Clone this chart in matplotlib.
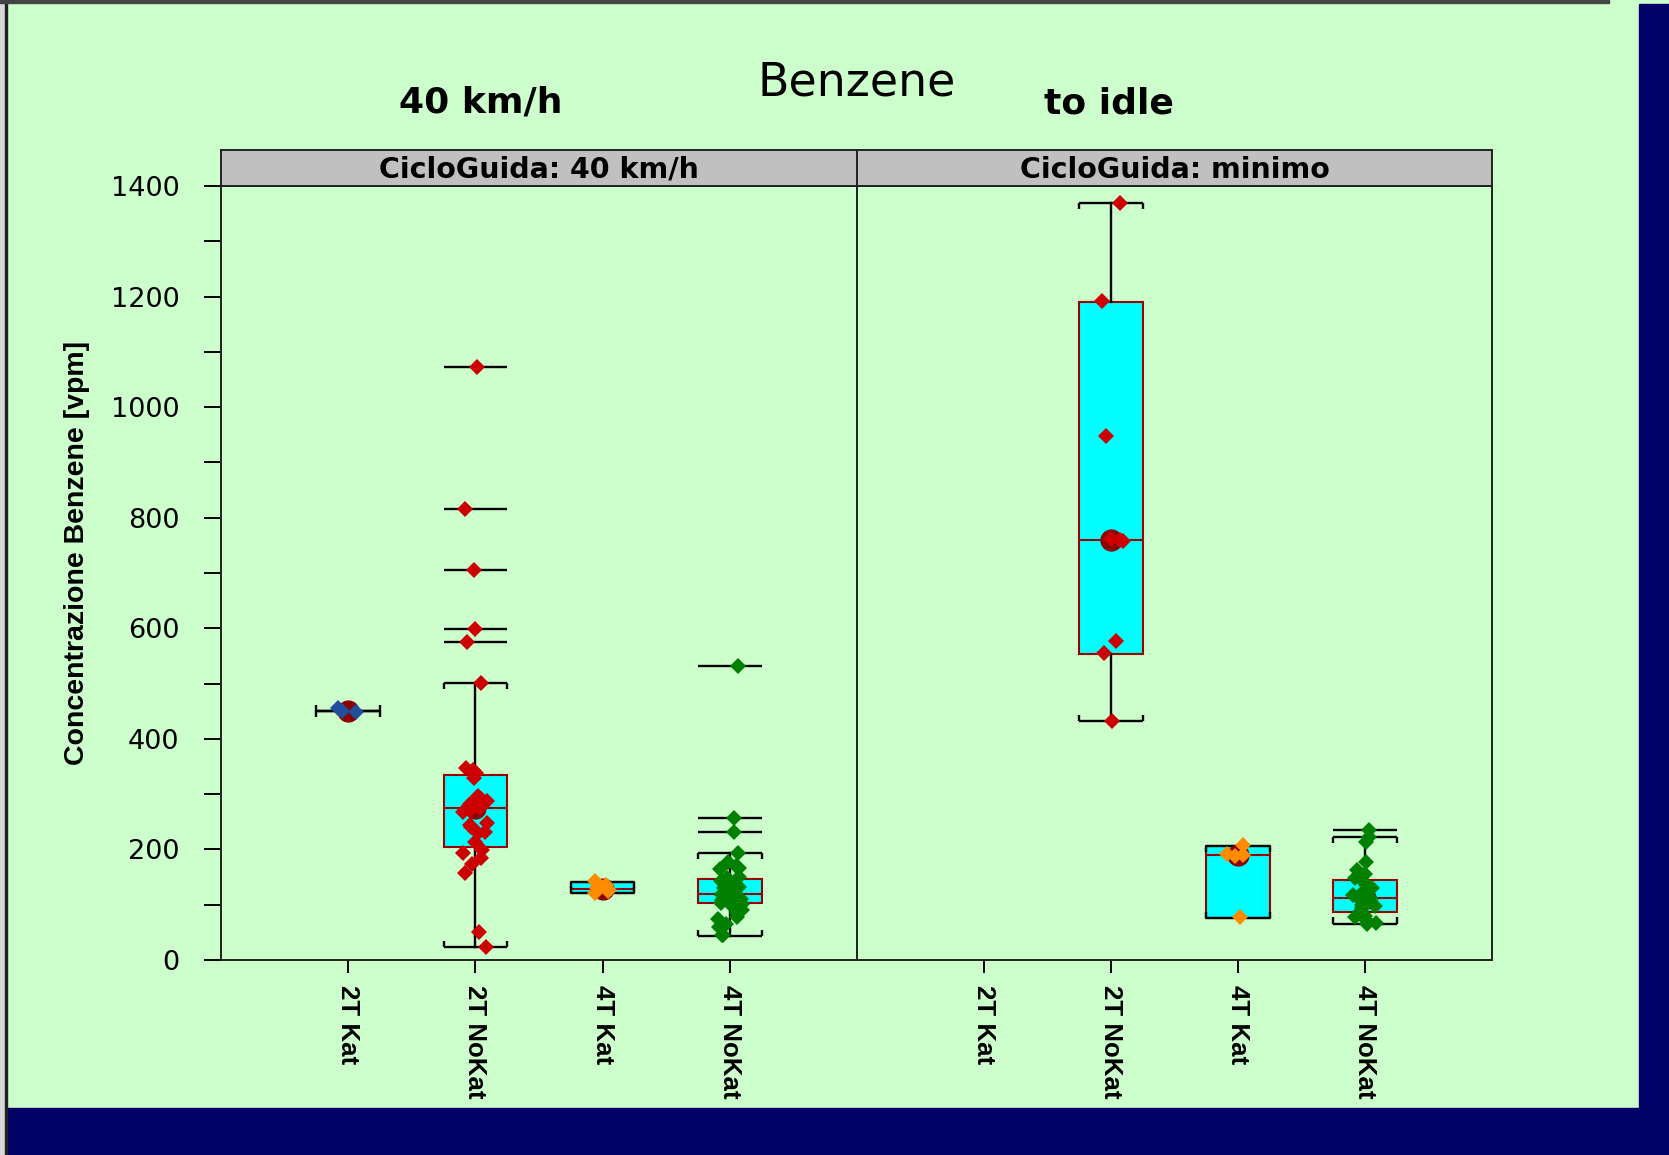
import matplotlib
matplotlib.use("Agg")
import matplotlib.pyplot as plt
from matplotlib.patches import Rectangle
import numpy as np

# Categorie e pannelli
categorie = ["2T Kat", "2T NoKat", "4T Kat", "4T NoKat"]
pannelli = ["CicloGuida: 40 km/h", "CicloGuida: minimo"]

# Punti osservati - ciclo 40 km/h
kat2_40 = [455, 450, 448]
nokat2_40 = [1072, 816, 705, 598, 575, 501, 347, 344, 338, 330, 296, 292, 288,
             282, 278, 275, 272, 268, 248, 245, 240, 232, 230, 214, 199, 194,
             184, 173, 158, 51, 23]
kat4_40 = [143, 135, 130, 127, 124, 122]
nokat4_40 = [532, 256, 231, 194, 177, 170, 166, 164, 151, 148, 145, 142, 139,
             135, 132, 130, 127, 125, 122, 120, 118, 116, 115, 112, 110, 108,
             105, 103, 101, 98, 95, 91, 85, 78, 75, 65, 60, 46, 45]

# Punti osservati - ciclo minimo
kat2_min = []
nokat2_min = [1370, 1192, 948, 762, 760, 758, 577, 555, 432]
kat4_min = [208, 192, 190, 188, 77]
nokat4_min = [235, 223, 214, 178, 163, 155, 148, 140, 136, 130, 121, 118, 115,
              114, 110, 106, 100, 97, 94, 88, 85, 79, 78, 72, 67, 66]

# Statistiche dei box: [baffo inf, q1, mediana, q3, baffo sup]
stat_40 = [[450, 450, 450, 450, 450],
           [23, 205, 275, 334, 501],
           [121, 121, 128, 141, 141],
           [44, 103, 119, 147, 194]]
stat_min = [None,
            [432, 553, 760, 1191, 1369],
            [76, 76, 190, 206, 206],
            [66, 87, 113, 145, 222]]

# Valori anomali (disegnati come linee orizzontali)
anomali_40 = [[], [1072, 816, 705, 598, 575], [], [532, 256, 231]]
anomali_min = [[], [], [], [235]]

colori = {
    "2T Kat": "#1f4f9a",
    "2T NoKat": "#cc0000",
    "4T Kat": "#ff8c00",
    "4T NoKat": "#008000",
}

W, H = 1669, 1155
verde = "#ccffcc"
blu = "#000066"
rng = np.random.default_rng(3)


def fx(px):
    return px / W


def fy(py):
    return 1 - py / H


def disegna(ax, punti, stats, anomali):
    for i, cat in enumerate(categorie):
        x = i + 1
        st = stats[i]
        if st is None:
            continue
        lo, q1, med, q3, hi = st
        ax.bxp([dict(whislo=lo, q1=q1, med=med, q3=q3, whishi=hi, fliers=[])],
               positions=[x], widths=0.5, patch_artist=True, showcaps=False,
               manage_ticks=False,
               boxprops=dict(facecolor="cyan", edgecolor="#990000", lw=1.5),
               medianprops=dict(color="#990000", lw=1.5),
               whiskerprops=dict(color="black", lw=1.7))
        # cappucci a parentesi
        ax.hlines([lo, hi], x - 0.25, x + 0.25, color="black", lw=1.7, zorder=2.5)
        ax.vlines([x - 0.25, x + 0.25], hi - 11, hi, color="black", lw=1.7, zorder=2.5)
        ax.vlines([x - 0.25, x + 0.25], lo, lo + 11, color="black", lw=1.7, zorder=2.5)
        if anomali[i]:
            ax.hlines(anomali[i], x - 0.25, x + 0.25, color="black", lw=1.7, zorder=2.5)
        ax.plot(x, med, "o", color="#8b0000", ms=15, zorder=3)
        vals = punti[i]
        jit = rng.uniform(-0.1, 0.1, len(vals))
        ax.plot(x + jit, vals, "D", color=colori[cat], ms=8.5, mew=0, zorder=4)


fig = plt.figure(figsize=(W / 100, H / 100), dpi=100, facecolor=verde)

# bordi della cornice
fig.patches.append(Rectangle((fx(1639), 0), fx(30), fy(4), transform=fig.transFigure,
                             color=blu, zorder=-5))
fig.patches.append(Rectangle((fx(7), 0), 1, 47 / H, transform=fig.transFigure,
                             color=blu, zorder=-5))
fig.patches.append(Rectangle((0, 0), fx(5), 1, transform=fig.transFigure,
                             color="#d8d8d8", zorder=-5))
fig.patches.append(Rectangle((fx(5), 0), fx(2), 1, transform=fig.transFigure,
                             color="#222222", zorder=-5))
fig.patches.append(Rectangle((0, fy(3)), fx(1609), 3 / H, transform=fig.transFigure,
                             color="#444444", zorder=-5))

ax_l = fig.add_axes([fx(221), fy(960), fx(857) - fx(221), fy(186) - fy(960)])
ax_r = fig.add_axes([fx(857), fy(960), fx(1492) - fx(857), fy(186) - fy(960)])

disegna(ax_l, [kat2_40, nokat2_40, kat4_40, nokat4_40], stat_40, anomali_40)
disegna(ax_r, [kat2_min, nokat2_min, kat4_min, nokat4_min], stat_min, anomali_min)

for ax in (ax_l, ax_r):
    ax.set_facecolor(verde)
    ax.set_xlim(0, 5)
    ax.set_ylim(0, 1400)
    for s in ax.spines.values():
        s.set_linewidth(1.4)
        s.set_color("#222222")
    ax.set_xticks([1, 2, 3, 4])
    ax.set_xticklabels(categorie, rotation=270, fontweight="bold",
                       family="Liberation Sans", fontsize=18.6)
    ax.tick_params(axis="x", length=9, width=1.4, pad=9)

ax_l.set_yticks(range(0, 1401, 100))
ax_l.set_yticklabels([str(v) if v % 200 == 0 else "" for v in range(0, 1401, 100)],
                     fontsize=19.5, family="DejaVu Sans")
ax_l.tick_params(axis="y", length=12, width=1.4, pad=18)
ax_r.tick_params(axis="y", left=False, labelleft=False)

# strisce dei pannelli
for x0, x1, testo in [(221, 857, pannelli[0]), (857, 1492, pannelli[1])]:
    st = fig.add_axes([fx(x0), fy(186), fx(x1) - fx(x0), fy(150) - fy(186)])
    st.set_facecolor("#c0c0c0")
    st.set_xticks([])
    st.set_yticks([])
    for s in st.spines.values():
        s.set_linewidth(1.4)
        s.set_color("#222222")
    st.text(0.5, 0.45, testo, ha="center", va="center", fontsize=20.5,
            fontweight="bold", family="DejaVu Sans", transform=st.transAxes)

# titoli
fig.text(fx(857), fy(83), "Benzene", ha="center", va="center", fontsize=33,
         family="DejaVu Sans")
fig.text(fx(481), fy(103), "40 km/h", ha="center", va="center", fontsize=26,
         fontweight="bold", family="DejaVu Sans")
fig.text(fx(1109), fy(104), "to idle", ha="center", va="center", fontsize=26,
         fontweight="bold", family="DejaVu Sans")
fig.text(fx(77), fy(553), "Concentrazione Benzene [vpm]", rotation=90,
         ha="center", va="center", fontsize=20.5, fontweight="bold",
         family="Liberation Sans")

fig.savefig("out.png", dpi=100, facecolor=verde)
